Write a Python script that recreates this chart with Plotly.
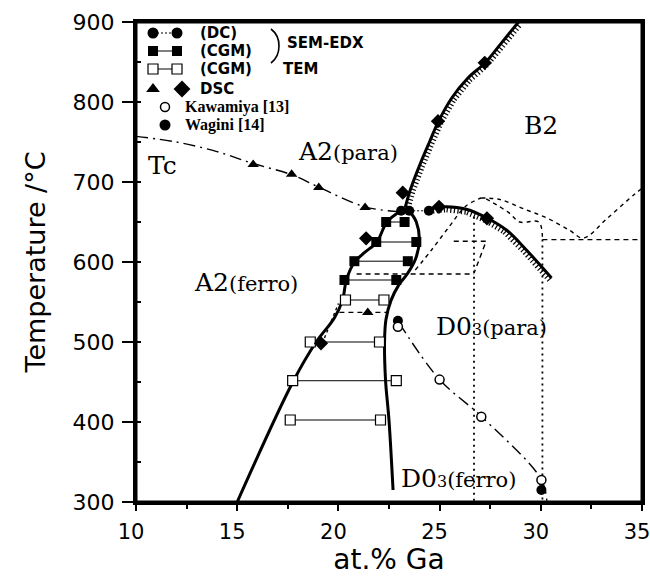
import numpy as np
import plotly.graph_objects as go

# ---------------- data (at.% Ga, temperature in deg C) ----------------
# A2 / B2 order-disorder boundary (hatched on the B2 side)
b2a2_x = [23.3, 23.55, 24.0, 24.5, 24.95, 25.6, 26.4, 27.25, 28.0, 28.9]
b2a2_t = [668, 690, 720, 750, 776, 805, 830, 849, 872, 900]
# B2 / D03 order-disorder boundary (hatched on the D03 side)
b2d03_x = [24.6, 25.33, 26.32, 27.34, 28.30, 29.29, 30.53]
b2d03_t = [667, 669, 666, 655, 640, 615, 580]
# A2 + D03 two-phase region, left and right boundaries
a2_left_x = [23.1, 22.4, 21.9, 21.3, 20.8, 20.4, 20.2, 19.8, 18.9, 17.75, 15.0]
a2_left_t = [664, 650, 625, 612, 600, 578, 552, 530, 500, 450, 300]
d03_right_x = [23.5, 23.85, 24.0, 23.8, 23.4, 23.0, 22.6, 22.35, 22.28, 22.33, 22.5, 22.7]
d03_right_t = [664, 650, 628, 603, 585, 572, 552, 528, 500, 452, 402, 315]
# Curie temperature of A2
tc_a2_x = [10.0, 12.0, 14.0, 15.8, 17.7, 19.0, 21.3, 23.0]
tc_a2_t = [757, 750, 738, 723, 709, 694, 669, 663]
# Curie temperature of D03
tc_d03_x = [23.0, 25.0, 27.06, 30.03, 30.3]
tc_d03_t = [524, 453, 407, 328, 300]

# SEM-EDX (DC) tie line
dc_x = [23.1, 23.5, 24.47]
dc_t = [664, 664, 664]
# SEM-EDX (CGM) tie lines
cgm_t = [650, 625, 601, 577.5]
cgm_left = [22.36, 21.87, 20.79, 20.30]
cgm_right = [23.27, 23.85, 23.43, 22.86]
# TEM (CGM) tie lines
tem_t = [552.5, 500, 451.6, 402.5]
tem_left = [20.35, 18.61, 17.74, 17.62]
tem_right = [22.25, 22.03, 22.86, 22.08]
# DSC
dsc_tri_x = [15.79, 17.69, 19.03, 21.32, 21.45]
dsc_tri_t = [722, 709.6, 693, 668, 537]
dsc_dia_x = [27.23, 24.92, 23.18, 24.97, 27.34, 21.37, 19.14]
dsc_dia_t = [849, 776, 686.6, 669, 654.6, 629.6, 498.4]
# literature
kawamiya_x = [22.94, 25.0, 27.06, 30.03]
kawamiya_t = [519, 453, 406.6, 327.5]
wagini_x = [22.94, 30.03]
wagini_t = [526.6, 315]

# dashed / dotted boundaries of earlier assessments
old1_x = [23.8, 24.6, 25.5, 26.3, 27.05]
old1_t = [590, 615, 645, 670, 680]
old2_x = [27.05, 28.0, 29.1, 30.3, 31.4, 32.1, 33.3, 34.6, 35.0]
old2_t = [680, 678, 667, 655, 640, 630, 655, 684, 692]
old3_x = [27.3, 28.4, 28.96, 29.9, 30.08]
old3_t = [679, 662, 650, 650, 628]
old4_x = [30.08, 35.0]
old4_t = [628, 628]
old5_x = [25.7, 27.3, 26.7]
old5_t = [626, 626, 586]
old6_x = [20.9, 26.7]
old6_t = [585, 585]
old7_x = [20.05, 22.4]
old7_t = [537, 537]
old8_x = [19.2, 20.0]
old8_t = [498, 548]
vert_a_x = [26.7, 26.7]
vert_a_t = [664, 300]
vert_b_x = [30.08, 30.08]
vert_b_t = [628, 300]

X_RANGE = [10, 35]
Y_RANGE = [300, 900]
W, H = 650, 576
M_L, M_R, M_T, M_B = 136, 8, 22, 74
PW, PH = W - M_L - M_R, H - M_T - M_B
SX = PW / (X_RANGE[1] - X_RANGE[0])
SY = PH / (Y_RANGE[1] - Y_RANGE[0])


def hatch(xs, ts, step=3.6, length=5.5):
    """Short ticks on the right-hand side of a polyline."""
    u = np.array(xs) * SX
    v = np.array(ts) * SY
    seg = np.hypot(np.diff(u), np.diff(v))
    s = np.concatenate([[0], np.cumsum(seg)])
    hx, hy = [], []
    for d in np.arange(step / 2, s[-1], step):
        i = min(np.searchsorted(s, d) - 1, len(seg) - 1)
        f = (d - s[i]) / seg[i]
        pu = u[i] + f * (u[i + 1] - u[i])
        pv = v[i] + f * (v[i + 1] - v[i])
        du, dv = (u[i + 1] - u[i]) / seg[i], (v[i + 1] - v[i]) / seg[i]
        nu, nv = dv, -du
        hx += [pu / SX, (pu + nu * length) / SX, None]
        hy += [pv / SY, (pv + nv * length) / SY, None]
    return hx, hy


def pairs(left, right, t):
    xs, ys = [], []
    for a, b, c in zip(left, right, t):
        xs += [a, b, None]
        ys += [c, c, None]
    return xs, ys


fig = go.Figure()
BLACK = "black"


def line(x, y, width=3, dash="solid", shape="spline"):
    fig.add_trace(go.Scatter(x=x, y=y, mode="lines", hoverinfo="skip",
                             line=dict(color=BLACK, width=width, dash=dash, shape=shape)))


# earlier assessments
for xs, ts in [(old1_x, old1_t), (old2_x, old2_t), (old3_x, old3_t)]:
    line(xs, ts, width=1.4, dash="4px,4px")
for xs, ts in [(old4_x, old4_t), (old5_x, old5_t), (old6_x, old6_t), (old7_x, old7_t)]:
    line(xs, ts, width=1.4, dash="5px,4px", shape="linear")
line(old8_x, old8_t, width=1.4, dash="3px,3px", shape="linear")
for xs, ts in [(vert_a_x, vert_a_t), (vert_b_x, vert_b_t)]:
    line(xs, ts, width=1.8, dash="2px,4px", shape="linear")

# Curie temperatures
line(tc_a2_x, tc_a2_t, width=1.4, dash="12px,5px,2px,5px")
line(tc_d03_x, tc_d03_t, width=1.4, dash="12px,5px,2px,5px")

# phase boundaries
line(a2_left_x, a2_left_t)
line(d03_right_x, d03_right_t)
line(b2a2_x, b2a2_t)
line(b2d03_x, b2d03_t)
for xs, ts in [(b2a2_x, b2a2_t), (b2d03_x, b2d03_t)]:
    hx, hy = hatch(xs, ts)
    fig.add_trace(go.Scatter(x=hx, y=hy, mode="lines", hoverinfo="skip",
                             line=dict(color=BLACK, width=1.2)))

# tie lines and symbols
tx, ty = pairs(cgm_left, cgm_right, cgm_t)
fig.add_trace(go.Scatter(x=tx, y=ty, mode="lines+markers", hoverinfo="skip",
                         line=dict(color=BLACK, width=1),
                         marker=dict(symbol="square", size=10, color=BLACK)))
tx, ty = pairs(tem_left, tem_right, tem_t)
fig.add_trace(go.Scatter(x=tx, y=ty, mode="lines+markers", hoverinfo="skip",
                         line=dict(color=BLACK, width=1),
                         marker=dict(symbol="square", size=10, color="white",
                                     line=dict(color=BLACK, width=1.2))))
fig.add_trace(go.Scatter(x=dc_x, y=dc_t, mode="lines+markers", hoverinfo="skip",
                         line=dict(color=BLACK, width=1, dash="2px,2px"),
                         marker=dict(symbol="circle", size=10, color=BLACK)))
fig.add_trace(go.Scatter(x=dsc_tri_x, y=dsc_tri_t, mode="markers", hoverinfo="skip",
                         marker=dict(symbol="triangle-up", size=10, color=BLACK)))
fig.add_trace(go.Scatter(x=dsc_dia_x, y=dsc_dia_t, mode="markers", hoverinfo="skip",
                         marker=dict(symbol="diamond", size=11, color=BLACK)))
fig.add_trace(go.Scatter(x=wagini_x, y=wagini_t, mode="markers", hoverinfo="skip",
                         marker=dict(symbol="circle", size=10, color=BLACK)))
fig.add_trace(go.Scatter(x=kawamiya_x, y=kawamiya_t, mode="markers", hoverinfo="skip",
                         marker=dict(symbol="circle", size=9, color="white",
                                     line=dict(color=BLACK, width=1.5))))


# key in the upper-left corner, drawn on an overlay axis in pixel units
def kx(px):
    return px - M_L


def ky(py):
    return H - M_B - py


fig.add_trace(go.Scatter(x=[kx(153), kx(177)], y=[ky(33)] * 2, xaxis="x2", yaxis="y2",
                         mode="lines+markers", hoverinfo="skip",
                         line=dict(color=BLACK, width=1, dash="2px,2px"),
                         marker=dict(symbol="circle", size=11, color=BLACK)))
fig.add_trace(go.Scatter(x=[kx(153), kx(177)], y=[ky(51)] * 2, xaxis="x2", yaxis="y2",
                         mode="lines+markers", hoverinfo="skip",
                         line=dict(color=BLACK, width=1),
                         marker=dict(symbol="square", size=10, color=BLACK)))
fig.add_trace(go.Scatter(x=[kx(153), kx(177)], y=[ky(69)] * 2, xaxis="x2", yaxis="y2",
                         mode="lines+markers", hoverinfo="skip",
                         line=dict(color=BLACK, width=1),
                         marker=dict(symbol="square", size=10, color="white",
                                     line=dict(color=BLACK, width=1.2))))
fig.add_trace(go.Scatter(x=[kx(153)], y=[ky(89)], xaxis="x2", yaxis="y2", mode="markers",
                         hoverinfo="skip",
                         marker=dict(symbol="triangle-up", size=12, color=BLACK)))
fig.add_trace(go.Scatter(x=[kx(182)], y=[ky(89)], xaxis="x2", yaxis="y2", mode="markers",
                         hoverinfo="skip",
                         marker=dict(symbol="diamond", size=13, color=BLACK)))
fig.add_trace(go.Scatter(x=[kx(165)], y=[ky(107)], xaxis="x2", yaxis="y2", mode="markers",
                         hoverinfo="skip",
                         marker=dict(symbol="circle", size=9, color="white",
                                     line=dict(color=BLACK, width=1.5))))
fig.add_trace(go.Scatter(x=[kx(165)], y=[ky(125)], xaxis="x2", yaxis="y2", mode="markers",
                         hoverinfo="skip",
                         marker=dict(symbol="circle", size=11, color=BLACK)))

KEY_FONT = dict(family="DejaVu Sans", size=15, color=BLACK)
SERIF_KEY = dict(family="Liberation Serif, Times New Roman", size=16, color=BLACK)
key_text = [
    (199, 33, "<b>(DC)</b>", KEY_FONT),
    (199, 51, "<b>(CGM)</b>", KEY_FONT),
    (199, 69, "<b>(CGM)</b>", KEY_FONT),
    (282, 69, "<b>TEM</b>", KEY_FONT),
    (199, 89, "<b>DSC</b>", KEY_FONT),
    (184, 107, "<b>Kawamiya [13]</b>", SERIF_KEY),
    (184, 125, "<b>Wagini [14]</b>", SERIF_KEY),
    (286, 43, "<b>SEM-EDX</b>", KEY_FONT),
]
annotations = []
for px, py, txt, fnt in key_text:
    annotations.append(dict(x=kx(px), y=ky(py), xref="x2", yref="y2", text=txt,
                            showarrow=False, xanchor="left", yanchor="middle",
                            borderpad=0, font=fnt))

# region labels
SERIF = "DejaVu Serif, Liberation Serif"
big = 25
small = 21


def region(x, y, main, tail, sub=None):
    txt = f"<span style='font-size:{big}px'>{main}</span>"
    if sub:
        txt += f"<span style='font-size:16px'>{sub}</span>"
    if tail:
        txt += f"<span style='font-size:{small}px'>{tail}</span>"
    annotations.append(dict(x=x, y=y, xref="x", yref="y", text=txt, showarrow=False,
                            font=dict(family=SERIF, color=BLACK)))


region(11.3, 721, "Tc", None)
region(20.45, 738, "A2", "(para)")
region(30.03, 771, "B2", None)
region(15.43, 575, "A2", "(ferro)")
region(27.55, 519, "D0", "(para)", sub="3")
region(25.94, 330, "D0", "(ferro)", sub="3")

# brace grouping the two SEM-EDX rows, and the plot frame
bx0, by0 = kx(271), ky(29)
bx1, by1 = kx(279), ky(46)
bx2, by2 = kx(271), ky(63)
shapes = [
    dict(type="path", xref="x2", yref="y2",
         path=f"M {bx0} {by0} Q {bx1} {by0 - 6} {bx1} {by1} Q {bx1} {by2 + 6} {bx2} {by2}",
         line=dict(color=BLACK, width=1.6)),
    dict(type="rect", xref="paper", yref="paper", x0=0, x1=1, y0=0, y1=1,
         line=dict(color=BLACK, width=3), layer="above"),
]

fig.update_layout(
    width=W, height=H,
    margin=dict(l=M_L, r=M_R, t=M_T, b=M_B, autoexpand=False),
    paper_bgcolor="white", plot_bgcolor="white",
    showlegend=False,
    annotations=annotations,
    shapes=shapes,
    xaxis=dict(range=X_RANGE, dtick=5, tick0=10, showgrid=False, zeroline=False,
               automargin=False, ticklabeloverflow="allow",
               showline=True, linewidth=3, linecolor=BLACK, mirror=True,
               ticks="outside", ticklen=6, tickwidth=2, tickcolor=BLACK,
               ticklabelstandoff=3, ticklabelshift=-5,
               minor=dict(dtick=2.5, ticks="outside", ticklen=4, tickwidth=1.5, tickcolor=BLACK),
               tickfont=dict(family="DejaVu Sans", size=21, color=BLACK),
               title=dict(text="at.% Ga", font=dict(family="DejaVu Sans", size=28, color=BLACK),
                          standoff=8)),
    yaxis=dict(range=Y_RANGE, dtick=100, showgrid=False, zeroline=False,
               automargin=False, ticklabeloverflow="allow",
               showline=True, linewidth=3, linecolor=BLACK, mirror=True,
               ticks="outside", ticklen=11, tickwidth=2, tickcolor=BLACK,
               ticklabelstandoff=3,
               minor=dict(dtick=50, ticks="inside", ticklen=5, tickwidth=1.5, tickcolor=BLACK),
               tickfont=dict(family="DejaVu Sans", size=22, color=BLACK),
               title=dict(text="Temperature /°C", font=dict(family="DejaVu Sans", size=27, color=BLACK),
                          standoff=20)),
    xaxis2=dict(range=[0, PW], overlaying="x", visible=False, fixedrange=True),
    yaxis2=dict(range=[0, PH], overlaying="y", visible=False, fixedrange=True),
)

fig.write_html(
    "out.html",
    config={"displayModeBar": False},
    post_script="document.documentElement.style.overflow='hidden';"
                "document.body.style.margin='0';document.body.style.overflow='hidden';",
)
